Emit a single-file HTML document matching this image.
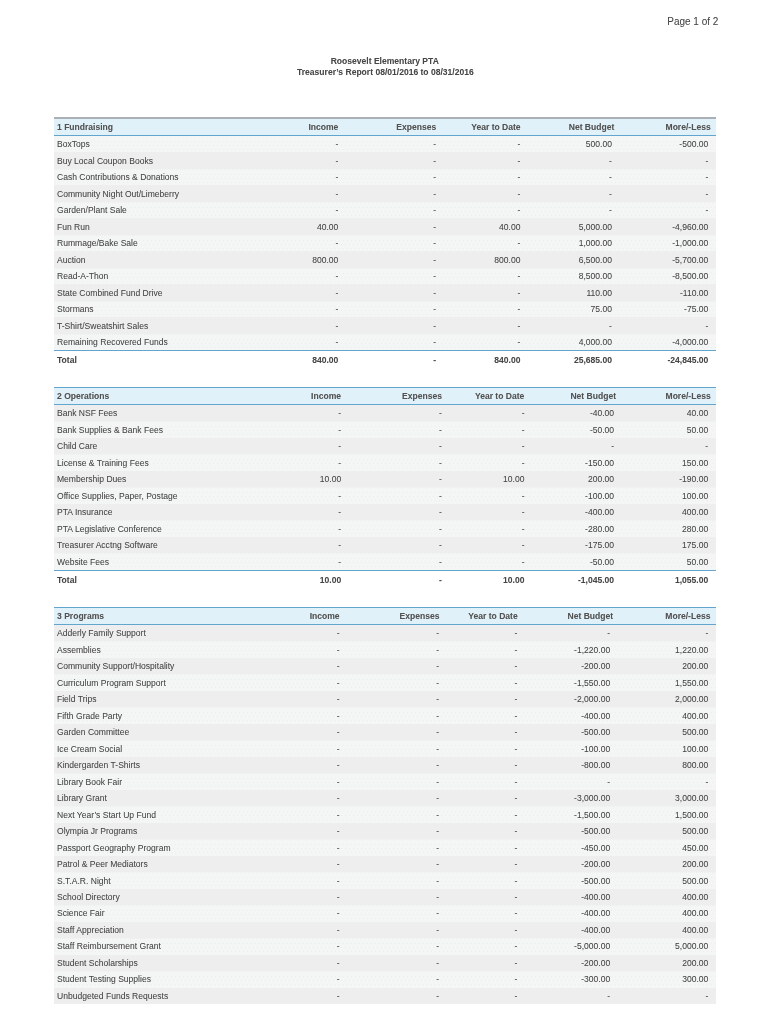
<!DOCTYPE html><html><head><meta charset="utf-8"><style>
*{margin:0;padding:0}
html,body{width:770px;height:1024px;background:#fff;overflow:hidden}
body{position:relative;font-family:"Liberation Sans",sans-serif}
#w{position:absolute;left:0;top:0;width:770px;height:1024px;will-change:transform}
.r{position:absolute}
.t,.h{position:absolute;font-size:8.56px;line-height:12px;white-space:nowrap;color:#474747;transform:scaleY(1.045);transform-origin:0 9px;text-shadow:0 0 0.5px rgba(80,80,80,0.25)}
.h{color:#525252}
.b{font-weight:bold}
.nt{background-repeat:repeat-x,repeat-x,repeat-x,no-repeat!important;background-size:4px 20px,4px 20px,4px 20px,0 0!important}
.lt{background-color:#f4f5f5;background-image:conic-gradient(at 1px 1px,transparent 75%,#eceded 0),conic-gradient(at 1px 1px,transparent 75%,#eceded 0),conic-gradient(at 1px 1px,transparent 75%,#eceded 0),conic-gradient(at 1px 1px,transparent 75%,#edeeee 0);background-size:4px 20px,4px 20px,4px 20px,2px 20px;background-position:1px 5px,3px 9px,1px 13px,0 0;background-repeat:repeat-x}
</style></head><body><div id="w">
<div class="t" style="left:0;width:718.40px;text-align:right;top:14.70px;font-size:10px;line-height:14px">Page 1 of 2</div>
<div class="t b" style="left:330.70px;top:55.20px">Roosevelt Elementary PTA</div>
<div class="t b" style="left:297.00px;top:66.40px">Treasurer’s Report 08/01/2016 to 08/31/2016</div>
<div class="r" style="left:54.30px;top:117.00px;width:661.70px;height:2.00px;background:#aab0b6"></div>
<div class="r" style="left:54.30px;top:119.00px;width:661.70px;height:16.00px;background:#e1f1f9"></div>
<div class="r" style="left:54.30px;top:135.00px;width:661.70px;height:1.00px;background:#62a6d0"></div>
<div class="h b" style="top:121.10px;left:57.00px;">1 Fundraising</div>
<div class="h b" style="top:121.10px;right:431.70px;">Income</div>
<div class="h b" style="top:121.10px;right:333.75px;">Expenses</div>
<div class="h b" style="top:121.10px;right:249.40px;">Year to Date</div>
<div class="h b" style="top:121.10px;right:155.70px;">Net Budget</div>
<div class="h b" style="top:121.10px;right:59.35px;">More/-Less</div>
<div class="r lt nt" style="left:54.30px;top:136.00px;width:661.70px;height:16.48px"></div>
<div class="t" style="top:138.30px;left:57.00px;">BoxTops</div>
<div class="t" style="top:138.30px;right:431.70px;">-</div>
<div class="t" style="top:138.30px;right:333.80px;">-</div>
<div class="t" style="top:138.30px;right:249.60px;">-</div>
<div class="t" style="top:138.30px;right:158.10px;">500.00</div>
<div class="t" style="top:138.30px;right:61.70px;">-500.00</div>
<div class="r" style="left:54.30px;top:152.48px;width:661.70px;height:16.48px;background:#eeeeee"></div>
<div class="t" style="top:154.78px;left:57.00px;">Buy Local Coupon Books</div>
<div class="t" style="top:154.78px;right:431.70px;">-</div>
<div class="t" style="top:154.78px;right:333.80px;">-</div>
<div class="t" style="top:154.78px;right:249.60px;">-</div>
<div class="t" style="top:154.78px;right:158.10px;">-</div>
<div class="t" style="top:154.78px;right:61.70px;">-</div>
<div class="r lt" style="left:54.30px;top:168.96px;width:661.70px;height:16.48px"></div>
<div class="t" style="top:171.26px;left:57.00px;">Cash Contributions &amp; Donations</div>
<div class="t" style="top:171.26px;right:431.70px;">-</div>
<div class="t" style="top:171.26px;right:333.80px;">-</div>
<div class="t" style="top:171.26px;right:249.60px;">-</div>
<div class="t" style="top:171.26px;right:158.10px;">-</div>
<div class="t" style="top:171.26px;right:61.70px;">-</div>
<div class="r" style="left:54.30px;top:185.44px;width:661.70px;height:16.48px;background:#eeeeee"></div>
<div class="t" style="top:187.74px;left:57.00px;">Community Night Out/Limeberry</div>
<div class="t" style="top:187.74px;right:431.70px;">-</div>
<div class="t" style="top:187.74px;right:333.80px;">-</div>
<div class="t" style="top:187.74px;right:249.60px;">-</div>
<div class="t" style="top:187.74px;right:158.10px;">-</div>
<div class="t" style="top:187.74px;right:61.70px;">-</div>
<div class="r lt" style="left:54.30px;top:201.92px;width:661.70px;height:16.48px"></div>
<div class="t" style="top:204.22px;left:57.00px;">Garden/Plant Sale</div>
<div class="t" style="top:204.22px;right:431.70px;">-</div>
<div class="t" style="top:204.22px;right:333.80px;">-</div>
<div class="t" style="top:204.22px;right:249.60px;">-</div>
<div class="t" style="top:204.22px;right:158.10px;">-</div>
<div class="t" style="top:204.22px;right:61.70px;">-</div>
<div class="r" style="left:54.30px;top:218.40px;width:661.70px;height:16.48px;background:#eeeeee"></div>
<div class="t" style="top:220.70px;left:57.00px;">Fun Run</div>
<div class="t" style="top:220.70px;right:431.70px;">40.00</div>
<div class="t" style="top:220.70px;right:333.80px;">-</div>
<div class="t" style="top:220.70px;right:249.60px;">40.00</div>
<div class="t" style="top:220.70px;right:158.10px;">5,000.00</div>
<div class="t" style="top:220.70px;right:61.70px;">-4,960.00</div>
<div class="r lt" style="left:54.30px;top:234.88px;width:661.70px;height:16.48px"></div>
<div class="t" style="top:237.18px;left:57.00px;">Rummage/Bake Sale</div>
<div class="t" style="top:237.18px;right:431.70px;">-</div>
<div class="t" style="top:237.18px;right:333.80px;">-</div>
<div class="t" style="top:237.18px;right:249.60px;">-</div>
<div class="t" style="top:237.18px;right:158.10px;">1,000.00</div>
<div class="t" style="top:237.18px;right:61.70px;">-1,000.00</div>
<div class="r" style="left:54.30px;top:251.36px;width:661.70px;height:16.48px;background:#eeeeee"></div>
<div class="t" style="top:253.66px;left:57.00px;">Auction</div>
<div class="t" style="top:253.66px;right:431.70px;">800.00</div>
<div class="t" style="top:253.66px;right:333.80px;">-</div>
<div class="t" style="top:253.66px;right:249.60px;">800.00</div>
<div class="t" style="top:253.66px;right:158.10px;">6,500.00</div>
<div class="t" style="top:253.66px;right:61.70px;">-5,700.00</div>
<div class="r lt" style="left:54.30px;top:267.84px;width:661.70px;height:16.48px"></div>
<div class="t" style="top:270.14px;left:57.00px;">Read-A-Thon</div>
<div class="t" style="top:270.14px;right:431.70px;">-</div>
<div class="t" style="top:270.14px;right:333.80px;">-</div>
<div class="t" style="top:270.14px;right:249.60px;">-</div>
<div class="t" style="top:270.14px;right:158.10px;">8,500.00</div>
<div class="t" style="top:270.14px;right:61.70px;">-8,500.00</div>
<div class="r" style="left:54.30px;top:284.32px;width:661.70px;height:16.48px;background:#eeeeee"></div>
<div class="t" style="top:286.62px;left:57.00px;">State Combined Fund Drive</div>
<div class="t" style="top:286.62px;right:431.70px;">-</div>
<div class="t" style="top:286.62px;right:333.80px;">-</div>
<div class="t" style="top:286.62px;right:249.60px;">-</div>
<div class="t" style="top:286.62px;right:158.10px;">110.00</div>
<div class="t" style="top:286.62px;right:61.70px;">-110.00</div>
<div class="r lt" style="left:54.30px;top:300.80px;width:661.70px;height:16.48px"></div>
<div class="t" style="top:303.10px;left:57.00px;">Stormans</div>
<div class="t" style="top:303.10px;right:431.70px;">-</div>
<div class="t" style="top:303.10px;right:333.80px;">-</div>
<div class="t" style="top:303.10px;right:249.60px;">-</div>
<div class="t" style="top:303.10px;right:158.10px;">75.00</div>
<div class="t" style="top:303.10px;right:61.70px;">-75.00</div>
<div class="r" style="left:54.30px;top:317.28px;width:661.70px;height:16.48px;background:#eeeeee"></div>
<div class="t" style="top:319.58px;left:57.00px;">T-Shirt/Sweatshirt Sales</div>
<div class="t" style="top:319.58px;right:431.70px;">-</div>
<div class="t" style="top:319.58px;right:333.80px;">-</div>
<div class="t" style="top:319.58px;right:249.60px;">-</div>
<div class="t" style="top:319.58px;right:158.10px;">-</div>
<div class="t" style="top:319.58px;right:61.70px;">-</div>
<div class="r lt" style="left:54.30px;top:333.76px;width:661.70px;height:16.48px"></div>
<div class="t" style="top:336.06px;left:57.00px;">Remaining Recovered Funds</div>
<div class="t" style="top:336.06px;right:431.70px;">-</div>
<div class="t" style="top:336.06px;right:333.80px;">-</div>
<div class="t" style="top:336.06px;right:249.60px;">-</div>
<div class="t" style="top:336.06px;right:158.10px;">4,000.00</div>
<div class="t" style="top:336.06px;right:61.70px;">-4,000.00</div>
<div class="r" style="left:54.30px;top:350.24px;width:661.70px;height:1.00px;background:#62a6d0"></div>
<div class="t b" style="top:354.24px;left:57.00px;">Total</div>
<div class="t b" style="top:354.24px;right:431.70px;">840.00</div>
<div class="t b" style="top:354.24px;right:333.80px;">-</div>
<div class="t b" style="top:354.24px;right:249.60px;">840.00</div>
<div class="t b" style="top:354.24px;right:158.10px;">25,685.00</div>
<div class="t b" style="top:354.24px;right:61.70px;">-24,845.00</div>
<div class="r" style="left:54.30px;top:387.00px;width:661.70px;height:1.00px;background:#62a6d0"></div>
<div class="r" style="left:54.30px;top:388.00px;width:661.70px;height:16.00px;background:#e1f1f9"></div>
<div class="r" style="left:54.30px;top:404.00px;width:661.70px;height:1.00px;background:#62a6d0"></div>
<div class="h b" style="top:390.10px;left:57.00px;">2 Operations</div>
<div class="h b" style="top:390.10px;right:429.00px;">Income</div>
<div class="h b" style="top:390.10px;right:328.05px;">Expenses</div>
<div class="h b" style="top:390.10px;right:245.70px;">Year to Date</div>
<div class="h b" style="top:390.10px;right:154.00px;">Net Budget</div>
<div class="h b" style="top:390.10px;right:59.35px;">More/-Less</div>
<div class="r" style="left:54.30px;top:405.00px;width:661.70px;height:16.48px;background:#eeeeee"></div>
<div class="t" style="top:407.30px;left:57.00px;">Bank NSF Fees</div>
<div class="t" style="top:407.30px;right:428.80px;">-</div>
<div class="t" style="top:407.30px;right:328.10px;">-</div>
<div class="t" style="top:407.30px;right:245.50px;">-</div>
<div class="t" style="top:407.30px;right:155.90px;">-40.00</div>
<div class="t" style="top:407.30px;right:61.80px;">40.00</div>
<div class="r lt" style="left:54.30px;top:421.48px;width:661.70px;height:16.48px"></div>
<div class="t" style="top:423.78px;left:57.00px;">Bank Supplies &amp; Bank Fees</div>
<div class="t" style="top:423.78px;right:428.80px;">-</div>
<div class="t" style="top:423.78px;right:328.10px;">-</div>
<div class="t" style="top:423.78px;right:245.50px;">-</div>
<div class="t" style="top:423.78px;right:155.90px;">-50.00</div>
<div class="t" style="top:423.78px;right:61.80px;">50.00</div>
<div class="r" style="left:54.30px;top:437.96px;width:661.70px;height:16.48px;background:#eeeeee"></div>
<div class="t" style="top:440.26px;left:57.00px;">Child Care</div>
<div class="t" style="top:440.26px;right:428.80px;">-</div>
<div class="t" style="top:440.26px;right:328.10px;">-</div>
<div class="t" style="top:440.26px;right:245.50px;">-</div>
<div class="t" style="top:440.26px;right:155.90px;">-</div>
<div class="t" style="top:440.26px;right:61.80px;">-</div>
<div class="r lt" style="left:54.30px;top:454.44px;width:661.70px;height:16.48px"></div>
<div class="t" style="top:456.74px;left:57.00px;">License &amp; Training Fees</div>
<div class="t" style="top:456.74px;right:428.80px;">-</div>
<div class="t" style="top:456.74px;right:328.10px;">-</div>
<div class="t" style="top:456.74px;right:245.50px;">-</div>
<div class="t" style="top:456.74px;right:155.90px;">-150.00</div>
<div class="t" style="top:456.74px;right:61.80px;">150.00</div>
<div class="r" style="left:54.30px;top:470.92px;width:661.70px;height:16.48px;background:#eeeeee"></div>
<div class="t" style="top:473.22px;left:57.00px;">Membership Dues</div>
<div class="t" style="top:473.22px;right:428.80px;">10.00</div>
<div class="t" style="top:473.22px;right:328.10px;">-</div>
<div class="t" style="top:473.22px;right:245.50px;">10.00</div>
<div class="t" style="top:473.22px;right:155.90px;">200.00</div>
<div class="t" style="top:473.22px;right:61.80px;">-190.00</div>
<div class="r lt" style="left:54.30px;top:487.40px;width:661.70px;height:16.48px"></div>
<div class="t" style="top:489.70px;left:57.00px;">Office Supplies, Paper, Postage</div>
<div class="t" style="top:489.70px;right:428.80px;">-</div>
<div class="t" style="top:489.70px;right:328.10px;">-</div>
<div class="t" style="top:489.70px;right:245.50px;">-</div>
<div class="t" style="top:489.70px;right:155.90px;">-100.00</div>
<div class="t" style="top:489.70px;right:61.80px;">100.00</div>
<div class="r" style="left:54.30px;top:503.88px;width:661.70px;height:16.48px;background:#eeeeee"></div>
<div class="t" style="top:506.18px;left:57.00px;">PTA Insurance</div>
<div class="t" style="top:506.18px;right:428.80px;">-</div>
<div class="t" style="top:506.18px;right:328.10px;">-</div>
<div class="t" style="top:506.18px;right:245.50px;">-</div>
<div class="t" style="top:506.18px;right:155.90px;">-400.00</div>
<div class="t" style="top:506.18px;right:61.80px;">400.00</div>
<div class="r lt" style="left:54.30px;top:520.36px;width:661.70px;height:16.48px"></div>
<div class="t" style="top:522.66px;left:57.00px;">PTA Legislative Conference</div>
<div class="t" style="top:522.66px;right:428.80px;">-</div>
<div class="t" style="top:522.66px;right:328.10px;">-</div>
<div class="t" style="top:522.66px;right:245.50px;">-</div>
<div class="t" style="top:522.66px;right:155.90px;">-280.00</div>
<div class="t" style="top:522.66px;right:61.80px;">280.00</div>
<div class="r" style="left:54.30px;top:536.84px;width:661.70px;height:16.48px;background:#eeeeee"></div>
<div class="t" style="top:539.14px;left:57.00px;">Treasurer Acctng Software</div>
<div class="t" style="top:539.14px;right:428.80px;">-</div>
<div class="t" style="top:539.14px;right:328.10px;">-</div>
<div class="t" style="top:539.14px;right:245.50px;">-</div>
<div class="t" style="top:539.14px;right:155.90px;">-175.00</div>
<div class="t" style="top:539.14px;right:61.80px;">175.00</div>
<div class="r lt" style="left:54.30px;top:553.32px;width:661.70px;height:16.48px"></div>
<div class="t" style="top:555.62px;left:57.00px;">Website Fees</div>
<div class="t" style="top:555.62px;right:428.80px;">-</div>
<div class="t" style="top:555.62px;right:328.10px;">-</div>
<div class="t" style="top:555.62px;right:245.50px;">-</div>
<div class="t" style="top:555.62px;right:155.90px;">-50.00</div>
<div class="t" style="top:555.62px;right:61.80px;">50.00</div>
<div class="r" style="left:54.30px;top:569.80px;width:661.70px;height:1.00px;background:#62a6d0"></div>
<div class="t b" style="top:573.80px;left:57.00px;">Total</div>
<div class="t b" style="top:573.80px;right:428.80px;">10.00</div>
<div class="t b" style="top:573.80px;right:328.10px;">-</div>
<div class="t b" style="top:573.80px;right:245.50px;">10.00</div>
<div class="t b" style="top:573.80px;right:155.90px;">-1,045.00</div>
<div class="t b" style="top:573.80px;right:61.80px;">1,055.00</div>
<div class="r" style="left:54.30px;top:607.00px;width:661.70px;height:1.00px;background:#62a6d0"></div>
<div class="r" style="left:54.30px;top:608.00px;width:661.70px;height:16.00px;background:#e1f1f9"></div>
<div class="r" style="left:54.30px;top:624.00px;width:661.70px;height:1.00px;background:#62a6d0"></div>
<div class="h b" style="top:610.10px;left:57.00px;">3 Programs</div>
<div class="h b" style="top:610.10px;right:430.40px;">Income</div>
<div class="h b" style="top:610.10px;right:330.55px;">Expenses</div>
<div class="h b" style="top:610.10px;right:252.30px;">Year to Date</div>
<div class="h b" style="top:610.10px;right:156.90px;">Net Budget</div>
<div class="h b" style="top:610.10px;right:59.55px;">More/-Less</div>
<div class="r" style="left:54.30px;top:625.00px;width:661.70px;height:16.48px;background:#eeeeee"></div>
<div class="t" style="top:627.30px;left:57.00px;">Adderly Family Support</div>
<div class="t" style="top:627.30px;right:430.50px;">-</div>
<div class="t" style="top:627.30px;right:330.90px;">-</div>
<div class="t" style="top:627.30px;right:252.60px;">-</div>
<div class="t" style="top:627.30px;right:159.80px;">-</div>
<div class="t" style="top:627.30px;right:61.70px;">-</div>
<div class="r lt" style="left:54.30px;top:641.48px;width:661.70px;height:16.48px"></div>
<div class="t" style="top:643.78px;left:57.00px;">Assemblies</div>
<div class="t" style="top:643.78px;right:430.50px;">-</div>
<div class="t" style="top:643.78px;right:330.90px;">-</div>
<div class="t" style="top:643.78px;right:252.60px;">-</div>
<div class="t" style="top:643.78px;right:159.80px;">-1,220.00</div>
<div class="t" style="top:643.78px;right:61.70px;">1,220.00</div>
<div class="r" style="left:54.30px;top:657.96px;width:661.70px;height:16.48px;background:#eeeeee"></div>
<div class="t" style="top:660.26px;left:57.00px;">Community Support/Hospitality</div>
<div class="t" style="top:660.26px;right:430.50px;">-</div>
<div class="t" style="top:660.26px;right:330.90px;">-</div>
<div class="t" style="top:660.26px;right:252.60px;">-</div>
<div class="t" style="top:660.26px;right:159.80px;">-200.00</div>
<div class="t" style="top:660.26px;right:61.70px;">200.00</div>
<div class="r lt" style="left:54.30px;top:674.44px;width:661.70px;height:16.48px"></div>
<div class="t" style="top:676.74px;left:57.00px;">Curriculum Program Support</div>
<div class="t" style="top:676.74px;right:430.50px;">-</div>
<div class="t" style="top:676.74px;right:330.90px;">-</div>
<div class="t" style="top:676.74px;right:252.60px;">-</div>
<div class="t" style="top:676.74px;right:159.80px;">-1,550.00</div>
<div class="t" style="top:676.74px;right:61.70px;">1,550.00</div>
<div class="r" style="left:54.30px;top:690.92px;width:661.70px;height:16.48px;background:#eeeeee"></div>
<div class="t" style="top:693.22px;left:57.00px;">Field Trips</div>
<div class="t" style="top:693.22px;right:430.50px;">-</div>
<div class="t" style="top:693.22px;right:330.90px;">-</div>
<div class="t" style="top:693.22px;right:252.60px;">-</div>
<div class="t" style="top:693.22px;right:159.80px;">-2,000.00</div>
<div class="t" style="top:693.22px;right:61.70px;">2,000.00</div>
<div class="r lt" style="left:54.30px;top:707.40px;width:661.70px;height:16.48px"></div>
<div class="t" style="top:709.70px;left:57.00px;">Fifth Grade Party</div>
<div class="t" style="top:709.70px;right:430.50px;">-</div>
<div class="t" style="top:709.70px;right:330.90px;">-</div>
<div class="t" style="top:709.70px;right:252.60px;">-</div>
<div class="t" style="top:709.70px;right:159.80px;">-400.00</div>
<div class="t" style="top:709.70px;right:61.70px;">400.00</div>
<div class="r" style="left:54.30px;top:723.88px;width:661.70px;height:16.48px;background:#eeeeee"></div>
<div class="t" style="top:726.18px;left:57.00px;">Garden Committee</div>
<div class="t" style="top:726.18px;right:430.50px;">-</div>
<div class="t" style="top:726.18px;right:330.90px;">-</div>
<div class="t" style="top:726.18px;right:252.60px;">-</div>
<div class="t" style="top:726.18px;right:159.80px;">-500.00</div>
<div class="t" style="top:726.18px;right:61.70px;">500.00</div>
<div class="r lt" style="left:54.30px;top:740.36px;width:661.70px;height:16.48px"></div>
<div class="t" style="top:742.66px;left:57.00px;">Ice Cream Social</div>
<div class="t" style="top:742.66px;right:430.50px;">-</div>
<div class="t" style="top:742.66px;right:330.90px;">-</div>
<div class="t" style="top:742.66px;right:252.60px;">-</div>
<div class="t" style="top:742.66px;right:159.80px;">-100.00</div>
<div class="t" style="top:742.66px;right:61.70px;">100.00</div>
<div class="r" style="left:54.30px;top:756.84px;width:661.70px;height:16.48px;background:#eeeeee"></div>
<div class="t" style="top:759.14px;left:57.00px;">Kindergarden T-Shirts</div>
<div class="t" style="top:759.14px;right:430.50px;">-</div>
<div class="t" style="top:759.14px;right:330.90px;">-</div>
<div class="t" style="top:759.14px;right:252.60px;">-</div>
<div class="t" style="top:759.14px;right:159.80px;">-800.00</div>
<div class="t" style="top:759.14px;right:61.70px;">800.00</div>
<div class="r lt" style="left:54.30px;top:773.32px;width:661.70px;height:16.48px"></div>
<div class="t" style="top:775.62px;left:57.00px;">Library Book Fair</div>
<div class="t" style="top:775.62px;right:430.50px;">-</div>
<div class="t" style="top:775.62px;right:330.90px;">-</div>
<div class="t" style="top:775.62px;right:252.60px;">-</div>
<div class="t" style="top:775.62px;right:159.80px;">-</div>
<div class="t" style="top:775.62px;right:61.70px;">-</div>
<div class="r" style="left:54.30px;top:789.80px;width:661.70px;height:16.48px;background:#eeeeee"></div>
<div class="t" style="top:792.10px;left:57.00px;">Library Grant</div>
<div class="t" style="top:792.10px;right:430.50px;">-</div>
<div class="t" style="top:792.10px;right:330.90px;">-</div>
<div class="t" style="top:792.10px;right:252.60px;">-</div>
<div class="t" style="top:792.10px;right:159.80px;">-3,000.00</div>
<div class="t" style="top:792.10px;right:61.70px;">3,000.00</div>
<div class="r lt" style="left:54.30px;top:806.28px;width:661.70px;height:16.48px"></div>
<div class="t" style="top:808.58px;left:57.00px;">Next Year’s Start Up Fund</div>
<div class="t" style="top:808.58px;right:430.50px;">-</div>
<div class="t" style="top:808.58px;right:330.90px;">-</div>
<div class="t" style="top:808.58px;right:252.60px;">-</div>
<div class="t" style="top:808.58px;right:159.80px;">-1,500.00</div>
<div class="t" style="top:808.58px;right:61.70px;">1,500.00</div>
<div class="r" style="left:54.30px;top:822.76px;width:661.70px;height:16.48px;background:#eeeeee"></div>
<div class="t" style="top:825.06px;left:57.00px;">Olympia Jr Programs</div>
<div class="t" style="top:825.06px;right:430.50px;">-</div>
<div class="t" style="top:825.06px;right:330.90px;">-</div>
<div class="t" style="top:825.06px;right:252.60px;">-</div>
<div class="t" style="top:825.06px;right:159.80px;">-500.00</div>
<div class="t" style="top:825.06px;right:61.70px;">500.00</div>
<div class="r lt" style="left:54.30px;top:839.24px;width:661.70px;height:16.48px"></div>
<div class="t" style="top:841.54px;left:57.00px;">Passport Geography Program</div>
<div class="t" style="top:841.54px;right:430.50px;">-</div>
<div class="t" style="top:841.54px;right:330.90px;">-</div>
<div class="t" style="top:841.54px;right:252.60px;">-</div>
<div class="t" style="top:841.54px;right:159.80px;">-450.00</div>
<div class="t" style="top:841.54px;right:61.70px;">450.00</div>
<div class="r" style="left:54.30px;top:855.72px;width:661.70px;height:16.48px;background:#eeeeee"></div>
<div class="t" style="top:858.02px;left:57.00px;">Patrol &amp; Peer Mediators</div>
<div class="t" style="top:858.02px;right:430.50px;">-</div>
<div class="t" style="top:858.02px;right:330.90px;">-</div>
<div class="t" style="top:858.02px;right:252.60px;">-</div>
<div class="t" style="top:858.02px;right:159.80px;">-200.00</div>
<div class="t" style="top:858.02px;right:61.70px;">200.00</div>
<div class="r lt" style="left:54.30px;top:872.20px;width:661.70px;height:16.48px"></div>
<div class="t" style="top:874.50px;left:57.00px;">S.T.A.R. Night</div>
<div class="t" style="top:874.50px;right:430.50px;">-</div>
<div class="t" style="top:874.50px;right:330.90px;">-</div>
<div class="t" style="top:874.50px;right:252.60px;">-</div>
<div class="t" style="top:874.50px;right:159.80px;">-500.00</div>
<div class="t" style="top:874.50px;right:61.70px;">500.00</div>
<div class="r" style="left:54.30px;top:888.68px;width:661.70px;height:16.48px;background:#eeeeee"></div>
<div class="t" style="top:890.98px;left:57.00px;">School Directory</div>
<div class="t" style="top:890.98px;right:430.50px;">-</div>
<div class="t" style="top:890.98px;right:330.90px;">-</div>
<div class="t" style="top:890.98px;right:252.60px;">-</div>
<div class="t" style="top:890.98px;right:159.80px;">-400.00</div>
<div class="t" style="top:890.98px;right:61.70px;">400.00</div>
<div class="r lt" style="left:54.30px;top:905.16px;width:661.70px;height:16.48px"></div>
<div class="t" style="top:907.46px;left:57.00px;">Science Fair</div>
<div class="t" style="top:907.46px;right:430.50px;">-</div>
<div class="t" style="top:907.46px;right:330.90px;">-</div>
<div class="t" style="top:907.46px;right:252.60px;">-</div>
<div class="t" style="top:907.46px;right:159.80px;">-400.00</div>
<div class="t" style="top:907.46px;right:61.70px;">400.00</div>
<div class="r" style="left:54.30px;top:921.64px;width:661.70px;height:16.48px;background:#eeeeee"></div>
<div class="t" style="top:923.94px;left:57.00px;">Staff Appreciation</div>
<div class="t" style="top:923.94px;right:430.50px;">-</div>
<div class="t" style="top:923.94px;right:330.90px;">-</div>
<div class="t" style="top:923.94px;right:252.60px;">-</div>
<div class="t" style="top:923.94px;right:159.80px;">-400.00</div>
<div class="t" style="top:923.94px;right:61.70px;">400.00</div>
<div class="r lt" style="left:54.30px;top:938.12px;width:661.70px;height:16.48px"></div>
<div class="t" style="top:940.42px;left:57.00px;">Staff Reimbursement Grant</div>
<div class="t" style="top:940.42px;right:430.50px;">-</div>
<div class="t" style="top:940.42px;right:330.90px;">-</div>
<div class="t" style="top:940.42px;right:252.60px;">-</div>
<div class="t" style="top:940.42px;right:159.80px;">-5,000.00</div>
<div class="t" style="top:940.42px;right:61.70px;">5,000.00</div>
<div class="r" style="left:54.30px;top:954.60px;width:661.70px;height:16.48px;background:#eeeeee"></div>
<div class="t" style="top:956.90px;left:57.00px;">Student Scholarships</div>
<div class="t" style="top:956.90px;right:430.50px;">-</div>
<div class="t" style="top:956.90px;right:330.90px;">-</div>
<div class="t" style="top:956.90px;right:252.60px;">-</div>
<div class="t" style="top:956.90px;right:159.80px;">-200.00</div>
<div class="t" style="top:956.90px;right:61.70px;">200.00</div>
<div class="r lt" style="left:54.30px;top:971.08px;width:661.70px;height:16.48px"></div>
<div class="t" style="top:973.38px;left:57.00px;">Student Testing Supplies</div>
<div class="t" style="top:973.38px;right:430.50px;">-</div>
<div class="t" style="top:973.38px;right:330.90px;">-</div>
<div class="t" style="top:973.38px;right:252.60px;">-</div>
<div class="t" style="top:973.38px;right:159.80px;">-300.00</div>
<div class="t" style="top:973.38px;right:61.70px;">300.00</div>
<div class="r" style="left:54.30px;top:987.56px;width:661.70px;height:16.48px;background:#eeeeee"></div>
<div class="t" style="top:989.86px;left:57.00px;">Unbudgeted Funds Requests</div>
<div class="t" style="top:989.86px;right:430.50px;">-</div>
<div class="t" style="top:989.86px;right:330.90px;">-</div>
<div class="t" style="top:989.86px;right:252.60px;">-</div>
<div class="t" style="top:989.86px;right:159.80px;">-</div>
<div class="t" style="top:989.86px;right:61.70px;">-</div>
</div></body></html>
